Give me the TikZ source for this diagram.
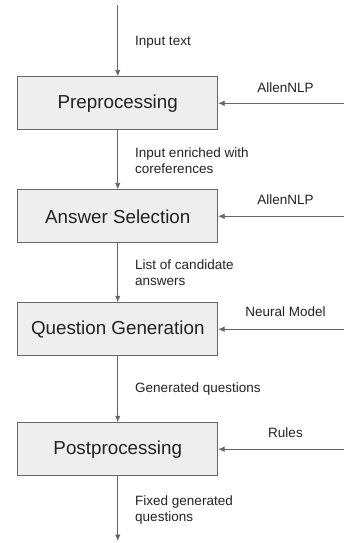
\documentclass[tikz,border=0pt]{standalone}
\usepackage{fontspec}
\setmainfont{Liberation Sans}
\usetikzlibrary{arrows.meta}
\definecolor{boxfill}{HTML}{EEEEEE}
\definecolor{edgegray}{HTML}{666666}
\definecolor{txtgray}{HTML}{222222}
\begin{document}
\begin{tikzpicture}[x=1pt,y=-1pt,
	stage/.style={draw=edgegray,fill=boxfill,line width=0.8pt,
		minimum width=200pt,minimum height=53pt,
		font=\fontsize{18.8}{22}\selectfont,text=txtgray},
	lbl/.style={font=\fontsize{13.5}{16}\selectfont,align=left,text=txtgray},
	flow/.style={draw=edgegray,line width=0.8pt,-{Latex[length=6.5pt,width=5.5pt]}}]
					\useasboundingbox (0,0) rectangle (344,543);
					% stages
					\foreach \y/\name/\texn in {103.3/pre/Preprocessing,
						216.3/sel/Answer Selection, 329.2/gen/Question Generation,
						449.2/post/Postprocessing} \path
					(117.75,\y)node[stage](\name){\texn};
					% labels on the flow
					\foreach \y/\name/\texn in {42/intext/Input text,
						160.5/coref/{Input enriched with\\coreferences},
						273/cand/{List of candidate\\answers},
						389.5/genq/Generated questions,
						510.5/fixq/{Fixed generated\\questions}} \path
					(131.7,\y)node[lbl,anchor=west](\name){\texn};
					% side inputs
					\foreach \y/\ly/\name/\texn in {103.3/87.5/nlpa/AllenNLP,
						216.3/199.5/nlpb/AllenNLP, 329.2/312/neural/Neural Model,
						449.2/433/rules/Rules} {
						\coordinate (\name-in) at (344,\y);
						\path (285.5,\ly) node[lbl](\name){\texn};
					}
					\coordinate (start) at (117.75,5);
					\coordinate (finish) at (117.75,541);
					\draw[flow] (start)--(pre.north);
					\draw[flow] (pre.south)--(sel.north);
					\draw[flow] (sel.south)--(gen.north);
					\draw[flow] (gen.south)--(post.north);
					\draw[flow] (post.south)--(finish);
					\draw[flow] (nlpa-in)--(pre.east);
					\draw[flow] (nlpb-in)--(sel.east);
					\draw[flow] (neural-in)--(gen.east);
					\draw[flow] (rules-in)--(post.east);
					\end{tikzpicture}
\end{document}
